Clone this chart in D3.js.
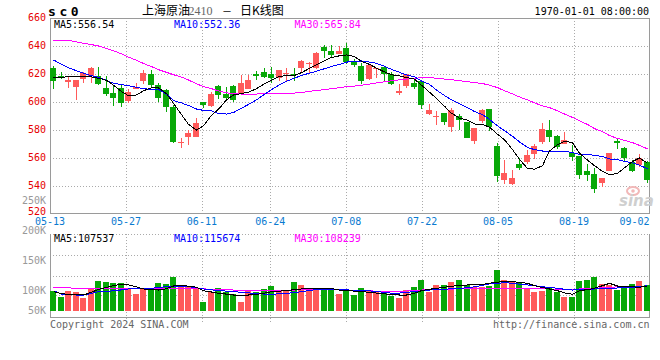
<!DOCTYPE html>
<html><head><meta charset="utf-8">
<script src="https://cdn.jsdelivr.net/npm/d3@7"></script>
<style>
html,body{margin:0;padding:0;background:#fff;}
svg{display:block;}
text{font-family:"DejaVu Sans Mono","Liberation Mono",monospace;font-size:10px;}
</style></head><body>
<svg id="c" width="660" height="360"></svg>
<script>
const dates = ["05-13","05-14","05-15","05-16","05-17","05-20","05-21","05-22","05-23","05-24",
"05-27","05-28","05-29","05-30","05-31","06-03","06-04","06-05","06-06","06-07",
"06-11","06-12","06-13","06-14","06-17","06-18","06-19","06-20","06-21","06-24",
"06-25","06-26","06-27","06-28","07-01","07-02","07-03","07-04","07-05","07-08",
"07-09","07-10","07-11","07-12","07-15","07-16","07-17","07-18","07-19","07-22",
"07-23","07-24","07-25","07-26","07-29","07-30","07-31","08-01","08-02","08-05",
"08-06","08-07","08-08","08-09","08-12","08-13","08-14","08-15","08-16","08-19",
"08-20","08-21","08-22","08-23","08-26","08-27","08-28","08-29","08-30","09-02"];
const open = [624.3,618.8,614.3,610.7,616.7,618.6,618.3,609.8,606.2,610.2,
600.7,609.0,615.0,620.2,611.9,608.3,596.4,571.0,575.0,575.0,
600.0,597.1,611.4,605.5,611.2,605.5,609.0,620.0,621.7,619.8,
617.4,620.2,620.2,624.3,627.1,624.3,639.0,636.2,634.5,638.3,
628.6,625.7,616.4,623.3,625.0,620.2,606.4,611.4,613.3,615.0,
591.7,589.8,591.9,582.1,589.8,585.7,572.1,586.4,594.8,568.3,
544.3,541.7,555.5,557.1,563.1,571.7,579.8,575.7,569.8,563.8,
561.2,550.5,548.8,542.1,550.7,571.9,567.4,557.1,554.8,557.4];
const high = [625.5,621.7,617.9,615.8,621.4,624.8,624.8,618.3,612.1,611.9,
609.0,613.8,623.1,622.6,613.8,609.0,597.6,574.0,580.2,588.3,
600.0,607.1,612.1,611.0,611.9,619.0,619.0,622.1,624.0,625.0,
622.6,624.5,624.0,630.2,628.6,635.7,640.5,640.5,639.8,641.9,
630.5,628.1,626.9,624.5,625.7,621.7,612.6,620.2,615.7,615.7,
598.3,593.6,591.9,595.5,591.2,585.7,581.7,594.8,594.8,570.5,
558.3,551.2,560.2,565.5,569.8,584.8,587.1,576.2,578.8,569.0,
561.2,555.5,553.1,546.0,563.3,574.5,568.1,558.3,562.6,557.9];
const low = [609.0,616.2,610.2,601.4,613.6,613.6,612.1,604.3,597.1,596.4,
599.0,609.0,612.6,611.0,600.0,592.9,570.7,566.9,569.0,575.0,
595.5,596.4,601.9,601.9,600.0,605.5,609.0,615.5,617.4,613.3,
615.0,615.0,615.0,620.7,620.2,623.8,631.2,631.2,634.0,626.9,
625.2,612.6,616.0,617.4,614.3,612.1,605.2,609.8,609.0,594.8,
590.5,583.6,583.6,578.6,580.0,574.3,570.0,585.2,579.3,542.9,
541.2,540.5,551.2,555.5,559.3,569.8,571.7,566.2,569.8,557.9,
544.8,543.6,534.8,539.3,550.7,566.2,557.4,550.0,553.8,541.9];
const close = [615.0,618.3,615.5,615.5,621.0,624.3,612.9,605.5,602.9,599.5,
607.4,611.0,620.5,611.9,602.6,596.4,571.7,571.2,577.9,584.8,
597.6,606.0,604.8,602.6,601.2,613.8,615.5,618.3,617.9,617.4,
622.6,621.0,619.0,629.0,627.9,634.8,636.4,633.6,636.2,628.8,
626.4,615.0,626.4,624.5,619.8,613.1,607.6,619.8,611.0,597.6,
594.0,590.2,585.7,594.0,586.9,574.3,581.2,594.0,582.4,547.1,
549.0,545.5,552.6,561.9,568.6,580.5,575.0,568.1,572.6,561.0,
547.9,547.9,537.9,546.0,563.3,570.7,559.8,550.5,559.8,544.3];
const volume = [99700,89700,99700,97500,88000,103700,116300,114700,113000,112000,
103700,94200,103700,102000,112500,110800,122500,106300,105300,103700,
81300,97000,103700,98000,93700,81300,100800,98000,102000,107500,
99700,100800,114700,109200,103700,103700,104700,104700,94200,99700,
92500,104700,100800,98000,97500,91300,88000,100800,106300,117500,
98000,109200,109200,114700,117500,109200,106300,105300,108000,134700,
117500,115800,112000,104700,98000,99700,106300,98000,89700,89700,
116300,117500,123000,110800,109200,100800,103700,110800,115800,109200];
const ma5 = [617.5,617.8,617.9,617.9,617.9,617.9,617.0,615.5,612.0,607.5,
604.5,605.0,608.0,610.2,610.0,606.0,599.0,591.0,584.0,580.0,
583.0,590.5,594.8,601.5,605.0,606.0,607.0,609.5,613.0,615.5,
618.3,618.8,619.0,621.0,624.0,626.5,629.5,631.8,633.0,633.6,
632.5,629.0,626.9,624.2,621.5,619.5,618.6,617.5,616.3,612.0,
607.0,602.5,597.0,592.0,588.5,587.0,584.3,584.0,582.0,577.0,
573.0,566.0,559.0,552.5,552.0,554.5,565.0,569.5,572.0,571.0,
563.5,558.5,554.5,550.5,548.0,549.0,553.0,557.5,560.0,556.3];
const ma10 = [630.0,627.0,624.5,622.3,620.5,618.8,617.5,615.5,613.3,612.5,
611.6,610.5,609.5,609.0,609.0,605.5,601.0,599.3,597.5,595.0,
594.0,593.6,591.7,591.4,592.5,595.5,598.3,601.5,605.5,608.8,
612.3,614.8,617.0,619.0,620.6,622.0,623.8,625.4,626.8,628.5,
629.0,629.3,628.5,627.6,625.5,623.3,621.2,619.4,618.0,615.0,
612.6,608.5,604.6,601.5,598.8,596.0,593.2,591.0,587.5,583.0,
579.5,575.5,571.5,567.5,566.0,565.0,565.0,565.0,565.0,563.8,
562.6,562.4,562.0,561.0,559.3,558.8,557.6,556.6,554.8,552.4];
const ma30 = [644.2,644.1,644.0,642.9,642.0,641.0,640.0,638.3,636.6,634.4,
632.1,629.8,627.5,625.3,623.1,621.2,619.5,617.8,615.7,613.0,
611.0,609.5,607.9,606.5,606.0,605.7,605.5,605.7,606.0,606.2,
606.4,606.4,606.4,606.8,607.6,608.2,608.9,609.5,610.2,611.0,
611.4,612.0,612.8,613.6,614.4,615.2,615.8,616.4,617.0,617.3,
617.4,617.0,616.4,615.9,615.2,614.6,613.8,613.2,612.0,610.3,
608.0,605.8,603.6,601.5,599.4,597.2,596.0,593.7,591.4,589.0,
586.5,584.0,581.0,578.8,576.0,574.0,572.6,571.0,569.0,566.5];
const vma5 = [98000,95000,93500,93000,92500,97000,102000,105000,108000,110500,
109500,106000,102500,101500,100800,103000,107500,109000,107000,105500,
99500,97500,95300,94000,92500,92500,92500,93500,95500,98000,
99000,99700,101500,102500,103500,103700,103700,103500,100500,99700,
99000,98000,97000,95800,94500,93000,92500,92500,95500,99700,
102000,103700,105500,107000,108500,109200,109700,110000,112000,114000,
114700,114700,113500,112000,108000,105000,102500,99700,96000,93700,
99700,101500,103700,108000,112000,107500,107500,106000,105500,107500];
const vma10 = [99700,94000,93000,92500,92500,95000,98000,98500,99500,101000,
102500,103700,103700,103700,105000,106500,107500,107000,106300,104500,
102500,101000,100000,99000,98000,97000,96000,95000,94000,93700,
94500,95300,96500,98000,100000,101500,102000,102000,101500,101000,
100500,100000,99500,98000,97000,95500,95800,97000,98000,99500,
100800,101500,102000,103000,103700,104500,106300,108500,111000,112000,
113000,112000,110500,109200,108000,106300,105000,103700,102000,100800,
101000,102000,102500,103200,103700,104200,104800,105300,106500,108000];
const vma30 = [105300,104800,104300,103700,103200,103500,103700,103700,103700,103700,
103700,103700,103700,103700,103700,103700,103700,103500,103200,102800,
102600,102300,101900,101400,100800,100500,100200,99900,99700,99700,
99900,100200,100800,101200,101500,101800,101900,101900,101000,100500,
100000,99700,99300,99000,98500,98000,98500,99200,100000,100800,
101200,101500,101900,102300,102800,103300,103700,103700,103700,103700,
103700,103700,103700,103700,103500,103000,102500,102000,101900,101900,
102500,103000,103700,104500,105300,106000,106300,106800,107200,107500];
const priceTicks = [660,640,620,600,580,560,540,520];
const volTicks = [250000,200000,150000,100000,50000];
const dateTicks = ["05-13","05-27","06-11","06-24","07-08","07-22","08-05","08-19","09-02"];
const priceLegend = ["MA5:556.54","MA10:552.36","MA30:565.84"];
const volLegend = ["MA5:107537","MA10:115674","MA30:108239"];
const maColors = ["#000000","#0000ff","#ff00ff"];

const svg = d3.select("#c");
const L = 50, R = 650;
const mTop = 18, mBot = 214;
const vTop = 234, vBot = 317, vBase = 311;
const UP = "#ff5a5a", DN = "#08a808";
const FRAME = "#9a9a9a", GRID = "#aaaaaa";

const xb = d3.scaleBand().domain(dates).range([L, R]).paddingInner(0.2).paddingOuter(0);
const xg = d3.scalePoint().domain(dates).range([L, R]);
const y = d3.scaleLinear().domain([520, 660]).range([mBot, mTop]);
const vy = d3.scaleLinear().domain([100000, 250000]).range([290.5, 200.5]);
const cx = d => Math.round(xb(d)) + 3.5;

// grid
const g = svg.append("g").attr("shape-rendering","crispEdges");
priceTicks.filter(t => t > 520 && t < 660).forEach(t => {
  const yy = Math.floor(y(t)) + 0.5;
  g.append("line").attr("x1",L).attr("x2",R).attr("y1",yy).attr("y2",yy)
   .attr("stroke",GRID).attr("stroke-dasharray","1,2");
});
[0.25,0.5,0.75].forEach(f => {
  const yy = Math.round(vTop + (vBot - vTop) * f - (f===0.75?1:0)) + 0.5;
  g.append("line").attr("x1",L).attr("x2",R).attr("y1",yy).attr("y2",yy)
   .attr("stroke",GRID).attr("stroke-dasharray","1,2");
});
g.append("line").attr("x1",L).attr("x2",R).attr("y1",vTop+0.5).attr("y2",vTop+0.5)
 .attr("stroke",GRID).attr("stroke-dasharray","1,2");
dateTicks.slice(1, -1).forEach(d => {
  const xx = Math.round(xg(d)) + 0.5;
  g.append("line").attr("x1",xx).attr("x2",xx).attr("y1",mTop).attr("y2",mBot)
   .attr("stroke",GRID).attr("stroke-dasharray","1,2");
  g.append("line").attr("x1",xx).attr("x2",xx).attr("y1",vTop).attr("y2",vBot+5)
   .attr("stroke",GRID).attr("stroke-dasharray","1,2");
});

// frames
const f = svg.append("g").attr("shape-rendering","crispEdges").attr("stroke",FRAME).attr("fill","none");
f.append("path").attr("d",`M${L+0.5},${mTop+0.5}H${R-0.5}V${mBot-0.5}H${L+0.5}Z`);
f.append("path").attr("d",`M${L+0.5},${vTop}V${vBot+0.5}H${R-0.5}V${vTop}`);

// watermark
const wm = svg.append("g");
wm.append("ellipse").attr("cx",633).attr("cy",191).attr("rx",6).attr("ry",4)
  .attr("fill","none").attr("stroke","#f2b8b8").attr("stroke-width",2);
wm.append("circle").attr("cx",633).attr("cy",191).attr("r",1.8).attr("fill","#f2b8b8");
wm.append("text").attr("x",619).attr("y",206).text("sina")
  .style("font-family","'DejaVu Sans',sans-serif").style("font-size","15px")
  .style("font-style","italic").style("font-weight","bold").attr("fill","#cfcfcf");

// candles
const cg = svg.append("g").attr("shape-rendering","crispEdges");
dates.forEach((d, i) => {
  const up = close[i] >= open[i];
  const col = up ? UP : DN;
  const x0 = Math.round(xb(d));
  const yh = Math.round(y(high[i])), yl = Math.round(y(low[i]));
  const yt = Math.round(y(Math.max(open[i], close[i]))), ybt = Math.round(y(Math.min(open[i], close[i])));
  cg.append("rect").attr("x",x0+3).attr("y",yh).attr("width",1).attr("height",Math.max(1,yl-yh)).attr("fill",col);
  cg.append("rect").attr("x",x0).attr("y",yt).attr("width",6).attr("height",Math.max(1,ybt-yt)).attr("fill",col);
  const vt = Math.round(vy(volume[i]));
  cg.append("rect").attr("x",x0).attr("y",vt).attr("width",6).attr("height",vBase-vt).attr("fill",col);
});

// MA lines
const lineP = d3.line().x((v,i) => cx(dates[i])).y(v => y(v));
const lineV = d3.line().x((v,i) => cx(dates[i])).y(v => vy(v));
[ma30, ma10, ma5].forEach((s, k) => {
  svg.append("path").attr("d", lineP(s)).attr("fill","none")
    .attr("stroke", maColors[2-k]).attr("stroke-width",1).attr("shape-rendering","crispEdges");
});
[vma30, vma10, vma5].forEach((s, k) => {
  svg.append("path").attr("d", lineV(s)).attr("fill","none")
    .attr("stroke", maColors[2-k]).attr("stroke-width",1).attr("shape-rendering","crispEdges");
});

// axis labels
priceTicks.forEach(t => {
  svg.append("text").attr("x",46).attr("y",y(t)+(t===520?1.2:2.5)).attr("text-anchor","end")
    .attr("fill","#e60000").text(t);
});
volTicks.forEach(t => {
  const cy = Math.min(vy(t), 310);
  svg.append("text").attr("x",46).attr("y",cy+3.5).attr("text-anchor","end")
    .attr("fill","#999999").text((t/1000)+"K");
});
dateTicks.forEach((d, i) => {
  const last = i === dateTicks.length - 1;
  svg.append("text").attr("x", last ? R - 0.5 : xg(d)).attr("y",225)
    .attr("text-anchor", last ? "end" : "middle").attr("fill","#0a7ad0").text(d);
});

// legends
const legX = [54, 174, 294.5];
priceLegend.forEach((t, k) => {
  svg.append("text").attr("x",legX[k]).attr("y",27.5).attr("fill",maColors[k]).text(t);
});
volLegend.forEach((t, k) => {
  svg.append("text").attr("x",legX[k]).attr("y",241.5).attr("fill",maColors[k]).text(t);
});

// title
svg.append("text").attr("x",48).attr("y",15.5).text("sc0")
  .style("font-size","13px").style("font-weight","bold").style("letter-spacing","3.6px").attr("fill","#000");
const tt = svg.append("text").attr("y",14.5)
  .style("font-family","'Noto Sans CJK SC',sans-serif").style("font-size","12px").attr("fill","#000");
tt.append("tspan").attr("x",142).text("上海原油");
tt.append("tspan").attr("x",188.5).style("font-family","'Liberation Serif',serif").attr("fill","#666").text("2410");
tt.append("tspan").attr("x",222).style("font-size","10px").text("－");
tt.append("tspan").attr("x",240).text("日K线图");
svg.append("text").attr("x",649).attr("y",15).attr("text-anchor","end").attr("fill","#000")
  .text("1970-01-01 08:00:00");

// footer
svg.append("text").attr("x",50).attr("y",327.5).attr("fill","#666").text("Copyright 2024 SINA.COM");
svg.append("text").attr("x",649.5).attr("y",327.5).attr("text-anchor","end").attr("fill","#666").text("http://finance.sina.com.cn");
</script>
</body></html>
